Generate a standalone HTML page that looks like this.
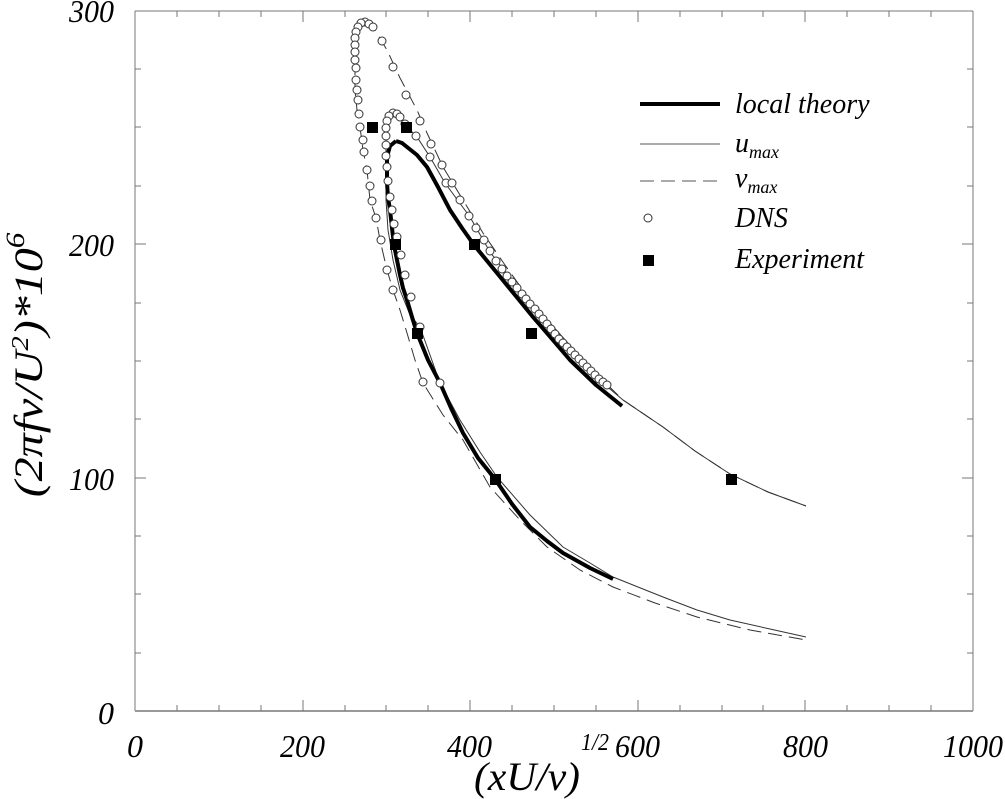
<!DOCTYPE html>
<html><head><meta charset="utf-8"><style>
body{margin:0;background:#fff}
svg{display:block}
text{font-family:"Liberation Serif",serif;font-style:italic;fill:#000}
</style></head><body>
<svg width="1005" height="799" viewBox="0 0 1005 799" xmlns="http://www.w3.org/2000/svg">
<g stroke="#777" stroke-width="1" fill="none">
<line x1="135" y1="11" x2="973" y2="11"/>
<line x1="135" y1="11" x2="135" y2="711"/>
<line x1="973" y1="11" x2="973" y2="711"/>
</g>
<line x1="135" y1="711" x2="973" y2="711" stroke="#999" stroke-width="2"/>
<g stroke="#777" stroke-width="1">
<line x1="177" y1="711" x2="177" y2="705"/><line x1="219" y1="711" x2="219" y2="705"/><line x1="261" y1="711" x2="261" y2="705"/><line x1="303" y1="711" x2="303" y2="700"/>
<line x1="345" y1="711" x2="345" y2="705"/><line x1="386" y1="711" x2="386" y2="705"/><line x1="428" y1="711" x2="428" y2="705"/><line x1="470" y1="711" x2="470" y2="700"/>
<line x1="512" y1="711" x2="512" y2="705"/><line x1="554" y1="711" x2="554" y2="705"/><line x1="596" y1="711" x2="596" y2="705"/><line x1="638" y1="711" x2="638" y2="700"/>
<line x1="680" y1="711" x2="680" y2="705"/><line x1="722" y1="711" x2="722" y2="705"/><line x1="763" y1="711" x2="763" y2="705"/><line x1="805" y1="711" x2="805" y2="700"/>
<line x1="847" y1="711" x2="847" y2="705"/><line x1="889" y1="711" x2="889" y2="705"/><line x1="931" y1="711" x2="931" y2="705"/>
<line x1="177" y1="11" x2="177" y2="17"/><line x1="219" y1="11" x2="219" y2="17"/><line x1="261" y1="11" x2="261" y2="17"/><line x1="303" y1="11" x2="303" y2="22"/>
<line x1="345" y1="11" x2="345" y2="17"/><line x1="386" y1="11" x2="386" y2="17"/><line x1="428" y1="11" x2="428" y2="17"/><line x1="470" y1="11" x2="470" y2="22"/>
<line x1="512" y1="11" x2="512" y2="17"/><line x1="554" y1="11" x2="554" y2="17"/><line x1="596" y1="11" x2="596" y2="17"/><line x1="638" y1="11" x2="638" y2="22"/>
<line x1="680" y1="11" x2="680" y2="17"/><line x1="722" y1="11" x2="722" y2="17"/><line x1="763" y1="11" x2="763" y2="17"/><line x1="805" y1="11" x2="805" y2="22"/>
<line x1="847" y1="11" x2="847" y2="17"/><line x1="889" y1="11" x2="889" y2="17"/><line x1="931" y1="11" x2="931" y2="17"/>
<line x1="135" y1="69" x2="141" y2="69"/><line x1="135" y1="127" x2="141" y2="127"/><line x1="135" y1="186" x2="141" y2="186"/><line x1="135" y1="244" x2="146" y2="244"/>
<line x1="135" y1="303" x2="141" y2="303"/><line x1="135" y1="361" x2="141" y2="361"/><line x1="135" y1="419" x2="141" y2="419"/><line x1="135" y1="478" x2="146" y2="478"/>
<line x1="135" y1="536" x2="141" y2="536"/><line x1="135" y1="594" x2="141" y2="594"/><line x1="135" y1="653" x2="141" y2="653"/>
<line x1="973" y1="69" x2="967" y2="69"/><line x1="973" y1="127" x2="967" y2="127"/><line x1="973" y1="186" x2="967" y2="186"/><line x1="973" y1="244" x2="962" y2="244"/>
<line x1="973" y1="303" x2="967" y2="303"/><line x1="973" y1="361" x2="967" y2="361"/><line x1="973" y1="419" x2="967" y2="419"/><line x1="973" y1="478" x2="962" y2="478"/>
<line x1="973" y1="536" x2="967" y2="536"/><line x1="973" y1="594" x2="967" y2="594"/><line x1="973" y1="653" x2="967" y2="653"/>
</g>
<g font-size="32" text-anchor="end">
<text x="114" y="22" textLength="45" lengthAdjust="spacingAndGlyphs">300</text><text x="114" y="256" textLength="45" lengthAdjust="spacingAndGlyphs">200</text><text x="114" y="490" textLength="45" lengthAdjust="spacingAndGlyphs">100</text><text x="114" y="724">0</text>
</g>
<g font-size="32">
<text x="127" y="757">0</text>
<text x="280" y="757" textLength="45" lengthAdjust="spacingAndGlyphs">200</text>
<text x="447" y="757" textLength="45" lengthAdjust="spacingAndGlyphs">400</text>
<text x="615" y="757" textLength="45" lengthAdjust="spacingAndGlyphs">600</text>
<text x="783" y="757" textLength="45" lengthAdjust="spacingAndGlyphs">800</text>
<text x="943" y="757" textLength="60" lengthAdjust="spacingAndGlyphs">1000</text>
</g>
<text x="474" y="790" font-size="40" textLength="106" lengthAdjust="spacingAndGlyphs">(xU/ν)</text>
<text x="581" y="750" font-size="24" textLength="28" lengthAdjust="spacingAndGlyphs">1/2</text>
<g transform="translate(42,365) rotate(-90) scale(1.2,1)">
<text font-size="40" text-anchor="middle">(2πfν/U<tspan font-size="24" dy="-14">2</tspan><tspan dy="14">)*10</tspan><tspan font-size="26" dy="-18">6</tspan></text>
</g>

<g fill="none" stroke="#333" stroke-width="1">
<polyline points="393,113 400,117 407,127 417,137 430,157 445,183 470,217 490,252 517,287 550,323 583,360 603,383 623,400 663,427 695,451 730,474 768,492 806,506"/>
<polyline points="393,113 388,118 386,130 386,160 386,200 388,230 393,260 400,290 410,315 420,327 430,355 440,383 460,420 480,452 497,477 530,515 563,547 590,563 613,577 663,597 697,610 730,620 770,629 806,637"/>
</g>
<g fill="none" stroke="#333" stroke-width="1" stroke-dasharray="14,7">
<polyline points="365,22 373,27 387,50 400,78 417,110 427,133 443,167 463,200 483,233 505,265 530,300 560,336 590,368 623,400 663,427 695,451 730,474 768,492 806,506"/>
<polyline points="365,22 358,30 355,50 355,90 357,110 360,127 363,150 367,170 370,200 376,218 380,240 387,270 393,290 400,310 407,333 415,360 423,383 443,415 463,440 490,487 520,520 547,547 580,570 613,587 655,603 697,617 750,630 806,640"/>
</g>
<g fill="none" stroke="#000" stroke-width="4" stroke-linejoin="round">
<polyline points="396,141 402,143 407,147 417,155 427,167 438,187 450,210 462,228 474,245 497,273 515,295 533,317 552,339 570,360 596,385 622,406"/>
<polyline points="396,141 390,146 387,157 387,170 387,183 388,197 390,210 392,228 394,245 397,260 400,275 403,288 407,300 412,317 417,333 428,360 440,383 451,408 463,433 478,458 495,479 512,504 530,527 547,541 563,553 590,568 613,579"/>
</g>
<g fill="#fff" stroke="#333" stroke-width="1">
<circle cx="365" cy="22" r="4"/><circle cx="361" cy="23" r="4"/><circle cx="369" cy="24" r="4"/><circle cx="373" cy="27" r="4"/><circle cx="358" cy="27" r="4"/><circle cx="356" cy="32" r="4"/><circle cx="355" cy="38" r="4"/><circle cx="355" cy="45" r="4"/><circle cx="355" cy="52" r="4"/><circle cx="355" cy="60" r="4"/><circle cx="356" cy="68" r="4"/><circle cx="356" cy="80" r="4"/><circle cx="357" cy="90" r="4"/><circle cx="358" cy="100" r="4"/><circle cx="359" cy="114" r="4"/><circle cx="360" cy="127" r="4"/><circle cx="363" cy="140" r="4"/><circle cx="364" cy="152" r="4"/><circle cx="367" cy="170" r="4"/><circle cx="370" cy="186" r="4"/><circle cx="372" cy="201" r="4"/><circle cx="376" cy="218" r="4"/><circle cx="381" cy="240" r="4"/><circle cx="387" cy="270" r="4"/><circle cx="393" cy="290" r="4"/><circle cx="423" cy="382" r="4"/>
<circle cx="382" cy="41" r="4"/><circle cx="393" cy="67" r="4"/><circle cx="406" cy="95" r="4"/><circle cx="420" cy="121" r="4"/><circle cx="431" cy="144" r="4"/><circle cx="442" cy="165" r="4"/>
<circle cx="393" cy="113" r="4"/><circle cx="397" cy="114" r="4"/><circle cx="389" cy="116" r="4"/><circle cx="400" cy="117" r="4"/><circle cx="387" cy="121" r="4"/><circle cx="386" cy="128" r="4"/><circle cx="386" cy="136" r="4"/><circle cx="386" cy="145" r="4"/><circle cx="386" cy="156" r="4"/><circle cx="387" cy="167" r="4"/><circle cx="388" cy="181" r="4"/><circle cx="390" cy="197" r="4"/><circle cx="392" cy="210" r="4"/><circle cx="394" cy="224" r="4"/><circle cx="397" cy="237" r="4"/><circle cx="401" cy="255" r="4"/><circle cx="405" cy="275" r="4"/><circle cx="411" cy="297" r="4"/><circle cx="420" cy="327" r="4"/><circle cx="440" cy="383" r="4"/>
<circle cx="405" cy="124" r="4"/><circle cx="416" cy="136" r="4"/><circle cx="430" cy="157" r="4"/><circle cx="446" cy="183" r="4"/><circle cx="452" cy="183" r="4"/><circle cx="460" cy="200" r="4"/><circle cx="469" cy="216" r="4"/><circle cx="476" cy="228" r="4"/><circle cx="484" cy="240" r="4"/><circle cx="490" cy="251" r="4"/><circle cx="496" cy="261" r="4"/><circle cx="502" cy="269" r="4"/><circle cx="507" cy="276" r="4"/><circle cx="512" cy="282" r="4"/><circle cx="517" cy="288" r="4"/><circle cx="522" cy="294" r="4"/><circle cx="526" cy="299" r="4"/><circle cx="530" cy="304" r="4"/><circle cx="535" cy="309" r="4"/><circle cx="539" cy="314" r="4"/><circle cx="543" cy="319" r="4"/><circle cx="547" cy="324" r="4"/><circle cx="551" cy="329" r="4"/><circle cx="555" cy="334" r="4"/><circle cx="559" cy="339" r="4"/><circle cx="563" cy="343" r="4"/><circle cx="567" cy="347" r="4"/><circle cx="571" cy="351" r="4"/><circle cx="575" cy="355" r="4"/><circle cx="579" cy="359" r="4"/><circle cx="583" cy="363" r="4"/><circle cx="587" cy="367" r="4"/><circle cx="591" cy="371" r="4"/><circle cx="595" cy="375" r="4"/><circle cx="599" cy="379" r="4"/><circle cx="603" cy="382" r="4"/><circle cx="607" cy="385" r="4"/>
</g>
<g fill="#000">
<rect x="367" y="122" width="11" height="11"/><rect x="401" y="122" width="11" height="11"/>
<rect x="390" y="239" width="11" height="11"/><rect x="469" y="239" width="11" height="11"/>
<rect x="412" y="328" width="11" height="11"/><rect x="526" y="328" width="11" height="11"/>
<rect x="490" y="474" width="11" height="11"/><rect x="726" y="474" width="11" height="11"/>
</g>
<line x1="640" y1="104" x2="720" y2="104" stroke="#000" stroke-width="4"/>
<text x="735" y="113" font-size="28">local theory</text>
<line x1="640" y1="144" x2="720" y2="144" stroke="#555" stroke-width="1"/>
<text x="735" y="152" font-size="28">u<tspan font-size="18" dy="6">max</tspan></text>
<line x1="640" y1="181" x2="720" y2="181" stroke="#555" stroke-width="1" stroke-dasharray="14,7"/>
<text x="735" y="187" font-size="28">v<tspan font-size="18" dy="6">max</tspan></text>
<circle cx="648" cy="218" r="4" fill="#fff" stroke="#333"/>
<text x="735" y="227" font-size="28">DNS</text>
<rect x="643" y="255" width="11" height="11" fill="#000"/>
<text x="735" y="268" font-size="28">Experiment</text>
</svg>
</body></html>
